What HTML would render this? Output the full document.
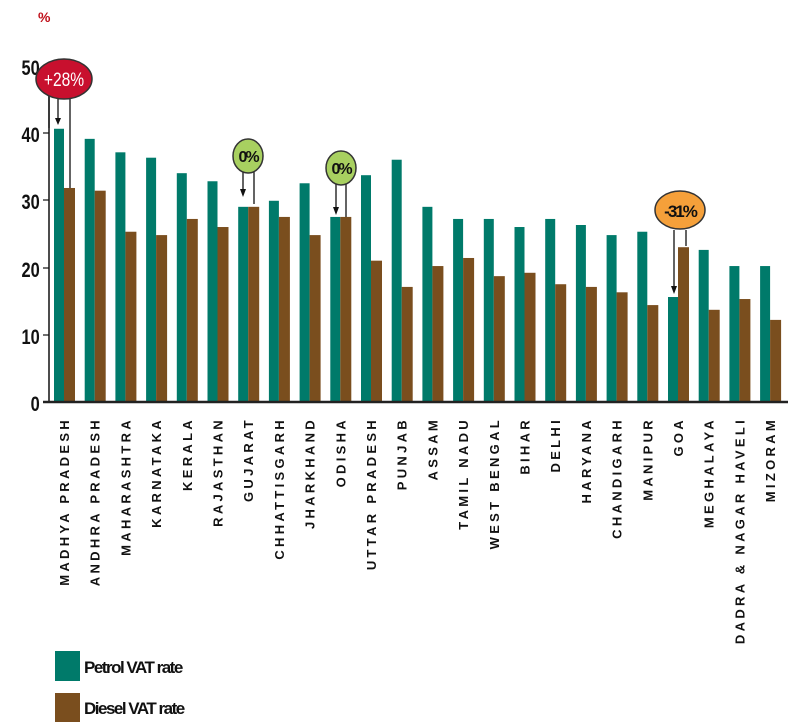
<!DOCTYPE html>
<html><head><meta charset="utf-8">
<style>
html,body{margin:0;padding:0;background:#fff;width:801px;height:728px;overflow:hidden}
svg{display:block}
text{font-family:"Liberation Sans",sans-serif}
</style></head>
<body>
<svg id="c" width="801" height="728" viewBox="0 0 801 728" xmlns="http://www.w3.org/2000/svg">
<text x="38" y="22" font-size="14" font-weight="bold" fill="#c0101a" letter-spacing="-2">%</text>
<g font-size="21" font-weight="bold" fill="#111" text-anchor="end" transform="scale(0.78,1)">
<text x="51" y="75">50</text>
<text x="51" y="142">40</text>
<text x="51" y="209">30</text>
<text x="51" y="277">20</text>
<text x="51" y="344">10</text>
<text x="51" y="411">0</text>
</g>
<g id="bars"></g>
<line x1="49" y1="63" x2="49" y2="402" stroke="#111" stroke-width="1.5"/>
<g stroke="#111" stroke-width="1.2">
<line x1="43" y1="133" x2="49" y2="133"/><line x1="43" y1="200" x2="49" y2="200"/>
<line x1="43" y1="268" x2="49" y2="268"/><line x1="43" y1="335" x2="49" y2="335"/>
</g>
<line x1="43" y1="402" x2="788" y2="402" stroke="#222" stroke-width="2.5"/>
<g id="labels" font-size="13" font-weight="bold" fill="#111" letter-spacing="3.3"></g>
<g stroke="#111" stroke-width="1.3" fill="none">
<line x1="49" y1="95" x2="49" y2="128"/><line x1="70" y1="95" x2="70" y2="188"/>
<line x1="58" y1="99" x2="58" y2="120"/>
<line x1="243" y1="170" x2="243" y2="190"/><line x1="254" y1="170" x2="254" y2="204"/>
<line x1="336" y1="180" x2="336" y2="208"/><line x1="346" y1="180" x2="346" y2="217"/>
<line x1="674" y1="230" x2="674" y2="288"/><line x1="686" y1="230" x2="686" y2="246"/>
</g>
<g fill="#111">
<polygon points="55,118 61,118 58,125"/>
<polygon points="240,189 246,189 243,197"/>
<polygon points="333,207 339,207 336,215"/>
<polygon points="671,286 677,286 674,294"/>
</g>
<ellipse cx="64" cy="79" rx="28" ry="20" fill="#c8102e" stroke="#333" stroke-width="1.5"/>
<text x="64" y="86" font-size="19" fill="#fff" text-anchor="middle" transform="translate(64,0) scale(0.82,1) translate(-64,0)">+28%</text>
<ellipse cx="248" cy="156" rx="15" ry="17" fill="#a8d060" stroke="#333" stroke-width="1.5"/>
<text x="248" y="162" font-size="16" font-weight="bold" fill="#111" text-anchor="middle" letter-spacing="-2">0%</text>
<ellipse cx="341" cy="168" rx="15" ry="17" fill="#a8d060" stroke="#333" stroke-width="1.5"/>
<text x="341" y="174" font-size="16" font-weight="bold" fill="#111" text-anchor="middle" letter-spacing="-2">0%</text>
<ellipse cx="680" cy="210" rx="25" ry="19" fill="#f5a03a" stroke="#333" stroke-width="1.5"/>
<text x="680" y="217" font-size="17" font-weight="bold" fill="#111" text-anchor="middle" letter-spacing="-2">-31%</text>
<rect x="55" y="651" width="25" height="30" fill="#007a6a"/>
<rect x="55" y="693" width="25" height="29" fill="#7a4e1e"/>
<text x="84" y="673" font-size="17" font-weight="bold" fill="#111" letter-spacing="-1.5">Petrol VAT rate</text>
<text x="84" y="714" font-size="17" font-weight="bold" fill="#111" letter-spacing="-1.5">Diesel VAT rate</text>
</svg>
<script>
var d=[["MADHYA PRADESH",40.6,31.8],["ANDHRA PRADESH",39.1,31.4],["MAHARASHTRA",37.1,25.3],["KARNATAKA",36.3,24.8],["KERALA",34,27.2],["RAJASTHAN",32.8,26],["GUJARAT",29,29],["CHHATTISGARH",29.9,27.5],["JHARKHAND",32.5,24.8],["ODISHA",27.5,27.5],["UTTAR PRADESH",33.7,21],["PUNJAB",36,17.1],["ASSAM",29,20.2],["TAMIL NADU",27.2,21.4],["WEST BENGAL",27.2,18.7],["BIHAR",26,19.2],["DELHI",27.2,17.5],["HARYANA",26.3,17.1],["CHANDIGARH",24.8,16.3],["MANIPUR",25.3,14.4],["GOA",15.6,23],["MEGHALAYA",22.6,13.7],["DADRA & NAGAR HAVELI",20.2,15.3],["MIZORAM",20.2,12.2]];
var ns="http://www.w3.org/2000/svg",b=document.getElementById("bars"),l=document.getElementById("labels");
function r(x,v,w,c){var e=document.createElementNS(ns,"rect"),y=402-v*6.73;e.setAttribute("x",x);e.setAttribute("y",y);e.setAttribute("width",w);e.setAttribute("height",402-y);e.setAttribute("fill",c);b.appendChild(e);}
d.forEach(function(s,i){var x=54+30.7*i;r(x,s[1],10,"#007a6a");r(x+10,s[2],11,"#7a4e1e");
var t=document.createElementNS(ns,"text"),cx=x+15;t.setAttribute("transform","translate("+cx+",417) rotate(-90)");t.setAttribute("text-anchor","end");t.textContent=s[0];l.appendChild(t);});
</script>
</body></html>
